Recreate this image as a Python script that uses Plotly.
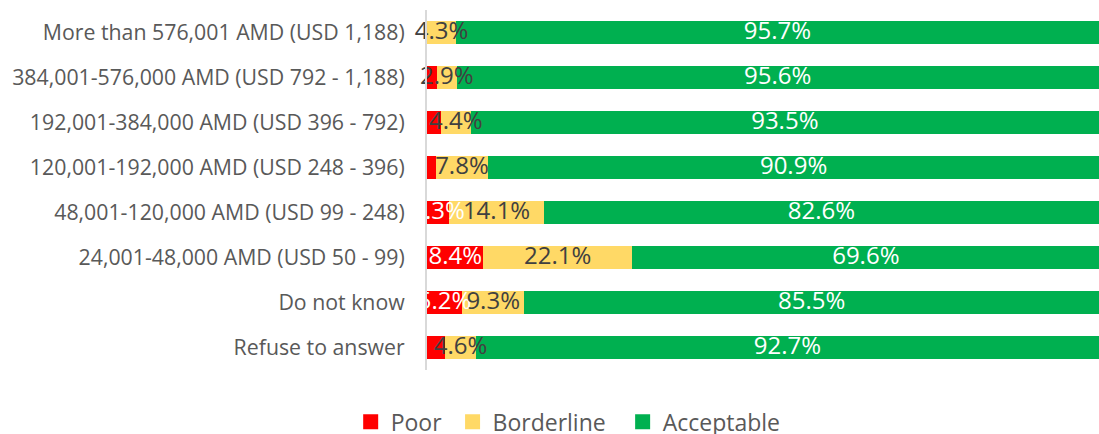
import plotly.graph_objects as go

categories = [
    "More than 576,001 AMD (USD 1,188)",
    "384,001-576,000 AMD (USD 792 - 1,188)",
    "192,001-384,000 AMD (USD 396 - 792)",
    "120,001-192,000 AMD (USD 248 - 396)",
    "48,001-120,000 AMD (USD 99 - 248)",
    "24,001-48,000 AMD (USD 50 - 99)",
    "Do not know",
    "Refuse to answer",
]
poor = [0.0, 1.5, 2.1, 1.3, 3.3, 8.4, 5.2, 2.7]
borderline = [4.3, 2.9, 4.4, 7.8, 14.1, 22.1, 9.3, 4.6]
acceptable = [95.7, 95.6, 93.5, 90.9, 82.6, 69.6, 85.5, 92.7]
poor_label_shown = [False, False, False, False, True, True, True, False]

font_family = "Open Sans"

def labels(vals, shown=None):
    out = []
    for i, v in enumerate(vals):
        if shown is not None and not shown[i]:
            out.append("")
        else:
            out.append(f"{v:.1f}%")
    return out

fig = go.Figure()
series = [
    ("Poor", poor, "#FF0000", "#FFFFFF", poor_label_shown),
    ("Borderline", borderline, "#FFD966", "#404040", None),
    ("Acceptable", acceptable, "#00B050", "#FFFFFF", None),
]
legend_pad = {"Poor": "\u00a0", "Borderline": "\u00a0\u00a0", "Acceptable": ""}
# bars
for name, vals, color, tcolor, shown in series:
    fig.add_trace(go.Bar(
        name=name, y=categories, x=vals, orientation="h",
        marker=dict(color=color, line=dict(width=0)),
        hoverinfo="x+name", showlegend=False, legendgroup=name,
    ))
# labels on top of all bars, centred in each segment
base = [0.0] * len(categories)
for name, vals, color, tcolor, shown in series:
    centers = [b + v / 2 for b, v in zip(base, vals)]
    fig.add_trace(go.Scatter(
        x=centers, y=categories, mode="text",
        text=labels(vals, shown), textposition="middle center",
        textfont=dict(family=font_family, size=24, color=tcolor),
        showlegend=False, hoverinfo="skip", cliponaxis=False,
    ))
    base = [b + v for b, v in zip(base, vals)]
# legend entries with larger square swatches
for name, vals, color, tcolor, shown in series:
    fig.add_trace(go.Scatter(
        x=[None], y=[None], mode="markers", name=name + legend_pad[name],
        legendgroup=name,
        marker=dict(symbol="square", size=15, color=color),
        showlegend=True,
    ))

fig.update_layout(
    barmode="stack",
    bargap=0.49,
    width=1099, height=434,
    margin=dict(l=427, r=0, t=10, b=64),
    plot_bgcolor="white", paper_bgcolor="white",
    font=dict(family=font_family, color="#595959"),
    legend=dict(
        orientation="h", x=0.517, xref="container", xanchor="center",
        y=0.028, yref="container", yanchor="middle",
        font=dict(size=23, color="#595959"),
        traceorder="normal",
    ),
    showlegend=True,
)
fig.update_xaxes(range=[0, 100], visible=False, fixedrange=True)
fig.update_yaxes(
    autorange="reversed", showline=True, linecolor="#D9D9D9", linewidth=2,
    ticks="", ticklabelstandoff=16,
    tickfont=dict(family=font_family, size=21.3, color="#595959"),
    showgrid=False, fixedrange=True,
)
fig.write_html(
    "out.html",
    config={"displayModeBar": False},
    post_script="document.body.style.margin='0';document.body.style.overflow='hidden';",
)
